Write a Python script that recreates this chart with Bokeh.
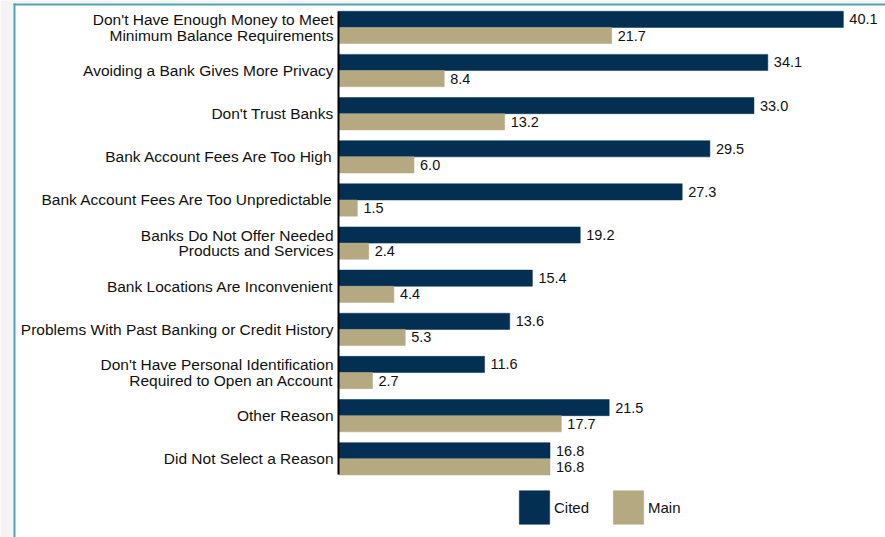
from bokeh.plotting import figure
from bokeh.models import Range1d, FixedTicker, Legend, LegendItem, ColumnDataSource, LinearAxis, BoxAnnotation
from bokeh.core.properties import value
from bokeh.embed import file_html
from bokeh.resources import INLINE

categories = [
    "Don't Have Enough Money to Meet\nMinimum Balance Requirements",
    "Avoiding a Bank Gives More Privacy",
    "Don't Trust Banks",
    "Bank Account Fees Are Too High",
    "Bank Account Fees Are Too Unpredictable",
    "Banks Do Not Offer Needed\nProducts and Services",
    "Bank Locations Are Inconvenient",
    "Problems With Past Banking or Credit History",
    "Don't Have Personal Identification\nRequired to Open an Account",
    "Other Reason",
    "Did Not Select a Reason",
]
cited = [40.1, 34.1, 33.0, 29.5, 27.3, 19.2, 15.4, 13.6, 11.6, 21.5, 16.8]
main = [21.7, 8.4, 13.2, 6.0, 1.5, 2.4, 4.4, 5.3, 2.7, 17.7, 16.8]
series_names = ["Cited", "Main"]
series_colors = ["#033052", "#b5a982"]

FONT = "Liberation Sans"
BAR_H = 0.375
W, H = 885, 537
PX_X = 12.59      # pixels per percentage point
PX_Y = 43.14      # pixels per category step
X0_PX = 338       # where the value axis sits
x_start = -X0_PX / PX_X
x_end = (W - X0_PX) / PX_X
y_end = 0.624
y_start = y_end - H / PX_Y

pos = [-i for i in range(len(categories))]
src = ColumnDataSource(dict(
    pos=pos,
    cat=categories,
    cited=cited,
    main=main,
    cited_y=[p_ + BAR_H / 2 for p_ in pos],
    main_y=[p_ - BAR_H / 2 for p_ in pos],
    cited_txt=[f"{v:.1f}" for v in cited],
    main_txt=[f"{v:.1f}" for v in main],
))

p = figure(
    width=W, height=H,
    x_range=Range1d(x_start, x_end),
    y_range=Range1d(y_start, y_end),
    output_backend="svg", toolbar_location=None,
    x_axis_location=None, y_axis_location=None,
    min_border=0,
)
p.outline_line_color = None
p.xgrid.visible = False
p.ygrid.visible = False


def px2x(px):
    return x_start + px / PX_X


def px2y(py):
    return y_end - py / PX_Y


# page frame decoration (grey margin + teal border)
for (l, r, t, b, c) in [
    (0, 13, 0, H, "#f4f4f4"), (0, W, 0, 3, "#f4f4f4"),
    (13, 15, 3, H, "#4fa3b3"), (13, W, 3, 5, "#4fa3b3"),
]:
    p.add_layout(BoxAnnotation(left=px2x(l), right=px2x(r), top=px2y(t), bottom=px2y(b),
                               fill_color=c, fill_alpha=1, line_color=None, level="underlay"))

r1 = p.hbar(y="cited_y", right="cited", left=0, height=BAR_H, source=src,
            fill_color=series_colors[0], line_color=series_colors[0], line_width=0.5)
r2 = p.hbar(y="main_y", right="main", left=0, height=BAR_H, source=src,
            fill_color=series_colors[1], line_color=series_colors[1], line_width=0.5)

p.text(x="cited", y="cited_y", text="cited_txt", source=src, x_offset=6,
       text_baseline="middle", text_align="left", text_font=value(FONT),
       text_font_size="14.5px", text_color="#111111")
p.text(x="main", y="main_y", text="main_txt", source=src, x_offset=6,
       text_baseline="middle", text_align="left", text_font=value(FONT),
       text_font_size="14.5px", text_color="#111111")

# category labels
p.text(x=0, y="pos", text="cat", source=src, x_offset=-5,
       text_baseline="middle", text_align="right", text_font=value(FONT),
       text_font_size="15.5px", text_color="#111111", text_line_height=0.9)

# value axis line
ax = LinearAxis(fixed_location=0, ticker=FixedTicker(ticks=[]),
                bounds=(pos[-1] - BAR_H, BAR_H))
ax.axis_line_color = "black"
ax.axis_line_width = 2
ax.major_tick_line_color = None
ax.minor_tick_line_color = None
ax.major_label_text_font_size = "0px"
p.add_layout(ax, "left")

legend = Legend(
    items=[LegendItem(label=series_names[0], renderers=[r1]),
           LegendItem(label=series_names[1], renderers=[r2])],
    orientation="horizontal", location=(515, 9),
    glyph_width=38, glyph_height=42, label_standoff=1, spacing=20,
    padding=0, margin=0, border_line_color=None, background_fill_alpha=0,
    label_text_font=FONT, label_text_font_size="15px", label_text_color="#111111",
)
p.add_layout(legend)

open("out.html", "w").write(file_html(p, INLINE))
